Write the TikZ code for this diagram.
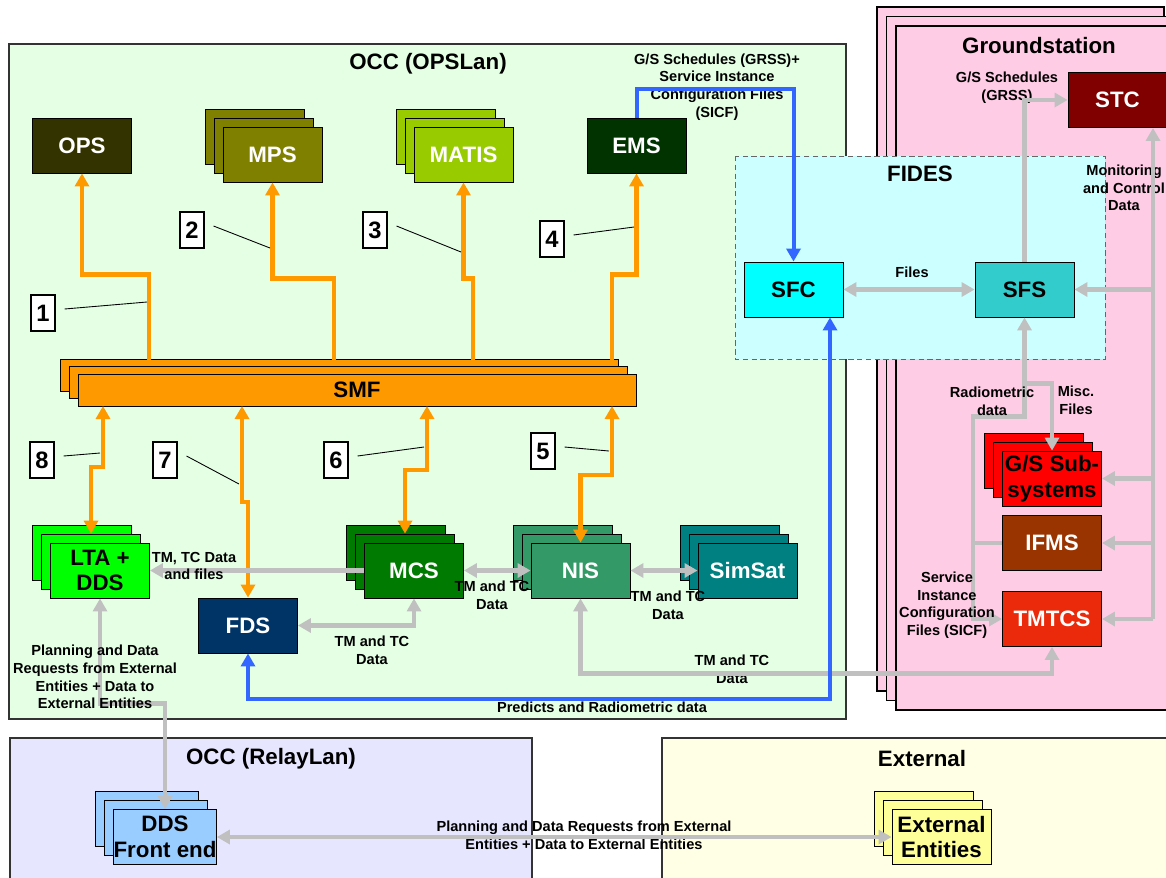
\documentclass[tikz,border=0pt]{standalone}
\usepackage{fontspec}
\setmainfont{Liberation Sans}
\usetikzlibrary{arrows.meta,shadows}

\definecolor{opsgreen}{HTML}{E5FFE5}
\definecolor{fidescyan}{HTML}{CCFFFF}
\definecolor{gspink}{HTML}{FFCCE6}
\definecolor{relaylilac}{HTML}{E6E6FF}
\definecolor{extyellow}{HTML}{FFFFE5}
\definecolor{opsdark}{HTML}{333300}
\definecolor{mpsolive}{HTML}{808000}
\definecolor{matisgreen}{HTML}{99CC00}
\definecolor{emsgreen}{HTML}{003300}
\definecolor{smforange}{HTML}{FF9900}
\definecolor{ltagreen}{HTML}{00FF00}
\definecolor{mcsgreen}{HTML}{007A00}
\definecolor{nisgreen}{HTML}{339966}
\definecolor{simteal}{HTML}{008080}
\definecolor{fdsblue}{HTML}{003366}
\definecolor{sfccyan}{HTML}{00FFFF}
\definecolor{sfsteal}{HTML}{33CCCC}
\definecolor{stcred}{HTML}{800000}
\definecolor{gssred}{HTML}{FF0000}
\definecolor{ifmsbrown}{HTML}{993300}
\definecolor{tmtcsred}{HTML}{EA2A0A}
\definecolor{ddsblue}{HTML}{99CCFF}
\definecolor{extentyellow}{HTML}{FFFF99}
\definecolor{linegrey}{HTML}{C0C0C0}
\definecolor{lineblue}{HTML}{3366FF}

\newcommand{\boxfont}{\fontsize{12.7}{14.7}\selectfont\bfseries}
\newcommand{\lblfont}{\fontsize{8.3}{10}\selectfont\bfseries}

\begin{document}
\begin{tikzpicture}[x=0.02cm, y=-0.02cm,
    box/.style={draw=black, line width=0.5pt, minimum width=1.98cm, minimum height=1.1cm, inner sep=0pt, align=center, font=\boxfont, text=white},
    stack/.style={fill=#1,
      general shadow={fill=#1, draw=black, line width=0.5pt, shadow xshift=-0.36cm, shadow yshift=0.36cm},
      general shadow={fill=#1, draw=black, line width=0.5pt, shadow xshift=-0.18cm, shadow yshift=0.18cm}},
    tag/.style={draw=black, fill=white, line width=0.6pt, minimum width=0.48cm, minimum height=0.72cm, inner sep=0pt, font=\fontsize{13.5}{15}\selectfont\bfseries},
    lbl/.style={align=center, inner sep=0pt, font=\lblfont},
    title/.style={font=\boxfont},
    orangeline/.style={draw=smforange, line width=0.09cm},
    greyline/.style={draw=linegrey, line width=0.09cm},
    blueline/.style={draw=lineblue, line width=0.08cm},
    leader/.style={draw=black, line width=0.5pt},
    >={Triangle[length=0.26cm, width=0.28cm]}
  ]
  \clip (0,0) rectangle (1166,877);

  % Groundstation (stacked)
  \foreach \d in {0,9.5,19}
    \filldraw[fill=gspink, draw=black, line width=0.6pt] ({877+\d},{7+\d}) rectangle ++(287,684);
  % OPSLan area
  \filldraw[fill=opsgreen, draw=black!80, line width=0.8pt] (9,44) rectangle (846,719);
  % FIDES area
  \filldraw[fill=fidescyan, draw=black!60, densely dashed, line width=0.5pt] (735,156) rectangle (1105,359);
  % RelayLan and External areas
  \filldraw[fill=relaylilac, draw=black!80, line width=0.8pt] (10,738) rectangle (532,900);
  \filldraw[fill=extyellow, draw=black!80, line width=0.8pt] (662,738) rectangle (1190,900);

  % Titles
  \node[title] (opstitle) at (428,64) {OCC (OPSLan)};
  \node[title] (gstitle) at (1039,46) {Groundstation};
  \node[title] (fidestitle) at (920,174) {FIDES};
  \node[title] (relaytitle) at (271,759) {OCC (RelayLan)};
  \node[title] (exttitle) at (922,759) {External};

  % Upper row
  \node[box, fill=opsdark] (ops) at (82,145.5) {OPS};
  \node[box, stack=mpsolive] (mps) at (272.5,154.5) {MPS};
  \node[box, stack=matisgreen] (matis) at (463.5,154.5) {MATIS};
  \node[box, fill=emsgreen] (ems) at (636.5,145.5) {EMS};

  % SMF bus
  \node[box, text=black, fill=smforange, minimum width=11.16cm, minimum height=0.64cm,
    general shadow={fill=smforange, draw=black, line width=0.5pt, shadow xshift=-0.36cm, shadow yshift=0.30cm},
    general shadow={fill=smforange, draw=black, line width=0.5pt, shadow xshift=-0.18cm, shadow yshift=0.15cm}] (smf) at (357,390) {SMF};

  % Lower row
  \node[box, stack=ltagreen, text=black] (lta) at (100,570.5) {LTA +\\DDS};
  \node[box, stack=mcsgreen] (mcs) at (414,570.5) {MCS};
  \node[box, stack=nisgreen] (nis) at (580.5,570.5) {NIS};
  \node[box, stack=simteal] (simsat) at (747.5,570.5) {SimSat};
  \node[box, fill=fdsblue] (fds) at (248,625.5) {FDS};

  % FIDES and Groundstation
  \node[box, fill=sfccyan, text=black] (sfc) at (793.5,289.5) {SFC};
  \node[box, fill=sfsteal, text=black] (sfs) at (1024.5,289.5) {SFS};
  \node[box, fill=stcred] (stc) at (1117.5,100) {STC};
  \node[box, stack=gssred, text=black] (gss) at (1052,478.5) {G/S Sub-\\systems};
  \node[box, fill=ifmsbrown] (ifms) at (1052,543) {IFMS};
  \node[box, fill=tmtcsred] (tmtcs) at (1052,619) {TMTCS};

  % RelayLan and External
  \node[box, stack=ddsblue, text=black] (ddsfe) at (165,837) {DDS\\Front end};
  \node[box, stack=extentyellow, text=black] (ext) at (941.5,837) {External\\Entities};

  % Interface numbers
  \node[tag] (t1) at (43,313) {1};
  \node[tag] (t2) at (192,230) {2};
  \node[tag] (t3) at (375,230) {3};
  \node[tag] (t4) at (552,239) {4};
  \node[tag] (t5) at (543,451) {5};
  \node[tag] (t6) at (336,460) {6};
  \node[tag] (t7) at (165,460) {7};
  \node[tag] (t8) at (42,460) {8};

  % Flow labels (under the lines)
  \node[lbl] (lbmcsnis) at (492,595) {TM and TC\\Data};
  \node[lbl] (lbnissim) at (668,605) {TM and TC\\Data};
  \node[lbl] (lbmcsfds) at (372,650) {TM and TC\\Data};
  \node[lbl] (lbnistm) at (732,669) {TM and TC\\Data};
  \node[lbl] (lbrelay) at (584,835) {Planning and Data Requests from External\\Entities + Data to External Entities};
  \node[lbl] (lbsched) at (717,87) {G/S Schedules (GRSS)+\\Service Instance\\Configuration Files\\(SICF)};
  \node[lbl] (lbpred) at (602,707) {Predicts and Radiometric data};
  \node[lbl] (lbfiles) at (912,272) {Files};
  \node[lbl] (lbgrss) at (1007,88) {G/S Schedules\\(GRSS)};
  \node[lbl] (lbmon) at (1124,188) {Monitoring\\and Control\\Data};
  \node[lbl] (lbmisc) at (1076,400) {Misc.\\Files};

  % SMF links
  \coordinate (s1) at (149,360);
  \coordinate (s2) at (334,360);
  \coordinate (s3) at (473,360);
  \coordinate (s4) at (612,360);
  \coordinate (s5) at (612,406);
  \coordinate (s6) at (427,406);
  \coordinate (s7) at (242,406);
  \coordinate (s8) at (103,406);
  \draw[orangeline, <-] (ops.south) -- ++(0,101) -| (s1);
  \draw[orangeline, <-] (mps.south) -- ++(0,96) -| (s2);
  \draw[orangeline, <-] (matis.south) -- ++(0,96) -| (s3);
  \draw[orangeline, <-] (ems.south) -- ++(0,101) -| (s4);
  \draw[orangeline, <->] (s5) -- ++(0,69) -| (nis.north);
  \draw[orangeline, <->] (s6) -- ++(0,64) -| ([shift={(-9,-9)}]mcs.north);
  \draw[orangeline, <->] (s7) -- ++(0,96) -| (fds.north);
  \draw[orangeline, <->] (s8) -- ++(0,61) -| ([shift={(-9,-9)}]lta.north);

  % TM/TC and file flows
  \draw[greyline, ->] (mcs.west) -- (lta.east);
  \draw[greyline, <->] (mcs.east) -- (nis.west);
  \draw[greyline, <->] (nis.east) -- (simsat.west);
  \draw[greyline, <->] (mcs.south) |- (fds.east);
  \draw[greyline, <->] (nis.south) -- ++(0,75) -| (tmtcs.south);
  \draw[greyline, <->] (lta.south) -- ++(0,105) -| (ddsfe.north);
  \draw[greyline, <->] (ddsfe.east) -- (ext.west);
  \draw[greyline, <->] (sfc.east) -- (sfs.west);
  \draw[greyline, ->] (sfs.north) |- (stc.west);

  % Monitoring and control bus
  \coordinate (mcbus) at (1153,619);
  \draw[greyline, ->] (mcbus) -- (mcbus |- stc.south);
  \draw[greyline, ->] (mcbus |- sfs.east) -- (sfs.east);
  \draw[greyline, ->] (mcbus |- gss.east) -- (gss.east);
  \draw[greyline, ->] (mcbus |- ifms.east) -- (ifms.east);
  \draw[greyline, ->] (mcbus) -- (tmtcs.east);

  % Radiometric data, SICF and misc files
  \coordinate (rbus) at (973,543);
  \draw[greyline, <->] (sfs.south) -- ++(0,99) -| (rbus) |- (tmtcs.west);
  \draw[greyline] (ifms.west) -- (rbus);
  \draw[greyline, ->] ([shift={(0,66)}]sfs.south) -| (gss.north);

  % Schedules and predicts
  \draw[blueline, ->] (ems.north) -- ++(0,-29) -| (sfc.north);
  \draw[blueline, <->] ([shift={(36.5,0)}]sfc.south) -- ++(0,382) -| (fds.south);

  % Flow labels (over the lines)
  \node[lbl] (lbtmtc) at (194,566) {TM, TC Data\\and files};
  \node[lbl] (lbplan) at (95,677) {Planning and Data\\Requests from External\\Entities + Data to\\External Entities};
  \node[lbl] (lbradio) at (992,401) {Radiometric\\data};
  \node[lbl] (lbsicf) at (947,605) {Service\\Instance\\Configuration\\Files (SICF)};

  % Number leaders
  \coordinate (l1) at (147,302);
  \coordinate (l2) at (270,248);
  \coordinate (l3) at (461,252);
  \coordinate (l4) at (634,227);
  \coordinate (l5) at (609,451);
  \coordinate (l6) at (424,447);
  \coordinate (l7) at (239,484);
  \coordinate (l8) at (100,453);
  \foreach \n in {1,...,8}
    \draw[leader] ([shift={(9,-4)}]t\n.east) -- (l\n);
\end{tikzpicture}
\end{document}
